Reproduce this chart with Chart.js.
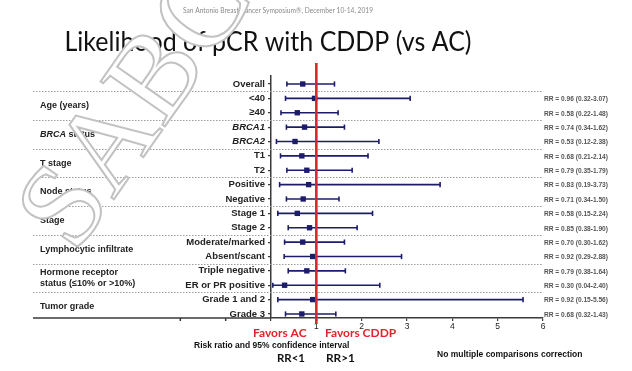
<!DOCTYPE html>
<html>
<head>
<meta charset="utf-8">
<script src="https://cdn.jsdelivr.net/npm/chart.js@4.4.1/dist/chart.umd.min.js"></script>
<style>
  html, body { margin: 0; padding: 0; background: #fff; }
  #wrap { width: 632px; height: 371px; }
</style>
</head>
<body>
<div id="wrap"><canvas id="forest" width="632" height="371"></canvas></div>
<script>
// Filas del forest plot (de arriba a abajo)
const rowLabels = ['Overall', '<40', '≥40', 'BRCA1', 'BRCA2', 'T1', 'T2', 'Positive', 'Negative',
    'Stage 1', 'Stage 2', 'Moderate/marked', 'Absent/scant', 'Triple negative', 'ER or PR positive',
    'Grade 1 and 2', 'Grade 3'];
const rr =     [0.70, 0.96, 0.58, 0.74, 0.53, 0.68, 0.79, 0.83, 0.71, 0.58, 0.85, 0.70, 0.92, 0.79, 0.30, 0.92, 0.68];
const ciLow =  [0.35, 0.32, 0.22, 0.34, 0.12, 0.21, 0.35, 0.19, 0.34, 0.15, 0.38, 0.30, 0.29, 0.38, 0.04, 0.15, 0.32];
const ciHigh = [1.40, 3.07, 1.48, 1.62, 2.38, 2.14, 1.79, 3.73, 1.50, 2.24, 1.90, 1.62, 2.88, 1.64, 2.40, 5.56, 1.43];

// Grupos (texto a la izquierda) y las filas que abarcan
const groupLabels = [['Age (years)'], ['BRCA status'], ['T stage'], ['Node status'], ['Stage'],
    ['Lymphocytic infiltrate'], ['Hormone receptor', 'status (≤10% or >10%)'], ['Tumor grade']];
const groupRows = [[1, 2], [3, 4], [5, 6], [7, 8], [9, 10], [11, 12], [13, 14], [15, 16]];

const xTicks = [0, 1, 2, 3, 4, 5, 6];
const xTicksLeft = [-2, -1];   // marcas sin texto a la izquierda del eje y
const axisStart = -5.25;       // la linea del eje x sigue por debajo de los grupos
const nullLine = 1;

const navy = '#1c1c6b';
const red = '#e3232b';

// Intervalos de confianza: una linea por fila, con topes verticales
const ciDatasets = rowLabels.map((_, i) => ({
    data: [{ x: ciLow[i], y: i }, { x: ciHigh[i], y: i }],
    showLine: true,
    borderColor: navy,
    borderWidth: 1.6,
    pointStyle: 'line',
    rotation: 90,
    pointRadius: 2.6,
    pointBorderWidth: 1.6,
    pointBorderColor: navy,
    clip: false,
}));

const textosPlugin = {
    id: 'textos',
    beforeDatasetsDraw(chart) {
        const { ctx, chartArea, scales: { x, y } } = chart;
        const left = x.getPixelForValue(axisStart);
        ctx.save();
        // separadores punteados entre grupos
        ctx.strokeStyle = '#9c9c9c';
        ctx.lineWidth = 1;
        ctx.setLineDash([1.5, 1.5]);
        groupRows.forEach(g => {
            const py = Math.round(y.getPixelForValue(g[0] - 0.5)) + 0.5;
            ctx.beginPath();
            ctx.moveTo(left, py);
            ctx.lineTo(chartArea.right, py);
            ctx.stroke();
        });
        ctx.setLineDash([]);

        // prolongacion del eje x hacia la izquierda
        ctx.strokeStyle = '#3a3a3a';
        ctx.lineWidth = 1.5;
        ctx.beginPath();
        ctx.moveTo(left, chartArea.bottom);
        ctx.lineTo(chartArea.left, chartArea.bottom);
        xTicksLeft.forEach(v => {
            const px = x.getPixelForValue(v);
            ctx.moveTo(px, chartArea.bottom);
            ctx.lineTo(px, chartArea.bottom + 3);
        });
        ctx.stroke();

        // etiquetas de grupo
        ctx.fillStyle = '#222';
        ctx.textBaseline = 'middle';
        ctx.textAlign = 'left';
        groupLabels.forEach((lines, gi) => {
            const mid = y.getPixelForValue((groupRows[gi][0] + groupRows[gi][1]) / 2);
            lines.forEach((t, li) => {
                const py = mid + (li - (lines.length - 1) / 2) * 11;
                if (t.startsWith('BRCA')) {
                    ctx.font = 'italic bold 9px "Liberation Sans"';
                    ctx.fillText('BRCA', 40, py);
                    const w = ctx.measureText('BRCA').width;
                    ctx.font = 'bold 9px "Liberation Sans"';
                    ctx.fillText(t.slice(4), 40 + w, py);
                } else {
                    ctx.font = 'bold 9px "Liberation Sans"';
                    ctx.fillText(t, 40, py, 100);
                }
            });
        });

        // RR (IC 95%) a la derecha; la fila Overall no lleva texto
        ctx.font = 'bold 6.6px "Liberation Sans"';
        ctx.fillStyle = '#555';
        rowLabels.forEach((_, i) => {
            if (i === 0) return;
            const txt = `RR = ${rr[i].toFixed(2)} (${ciLow[i].toFixed(2)}-${ciHigh[i].toFixed(2)})`;
            ctx.fillText(txt, chartArea.right + 1, y.getPixelForValue(i) + 1, 69);
        });
        ctx.restore();
    },
    afterDraw(chart) {
        const { ctx } = chart;
        ctx.save();
        ctx.textBaseline = 'middle';
        ctx.textAlign = 'center';
        ctx.fillStyle = '#8a8a8a';
        ctx.font = '7px Lato';
        ctx.fillText('San Antonio Breast Cancer Symposium®, December 10-14, 2019', 278, 11, 190);

        ctx.textBaseline = 'alphabetic';
        ctx.fillStyle = '#111';
        ctx.font = '26px Lato';
        ctx.fillText('Likelihood of pCR with CDDP (vs AC)', 268, 51, 407);

        ctx.textAlign = 'left';
        ctx.textBaseline = 'middle';
        ctx.fillStyle = red;
        ctx.font = 'bold 12px Lato';
        ctx.fillText('Favors AC', 253, 333, 60);
        ctx.fillText('Favors CDDP', 325, 333, 72);

        ctx.fillStyle = '#111';
        ctx.font = 'bold 8.5px "Liberation Sans"';
        ctx.fillText('Risk ratio and 95% confidence interval', 194, 346, 175);
        ctx.fillText('No multiple comparisons correction', 437, 355, 168);
        ctx.font = 'bold 12px Lato';
        ctx.fillText('RR<1', 277, 358, 28);
        ctx.fillText('RR>1', 326, 358, 29);

        // marca de agua
        ctx.translate(75, 255);
        ctx.rotate(-55 * Math.PI / 180);
        ctx.textBaseline = 'alphabetic';
        ctx.font = '120px "Liberation Serif"';
        ctx.fillStyle = '#fff';
        ctx.strokeStyle = '#c2c2c2';
        ctx.lineWidth = 2;
        ctx.fillText('SABCS', 0, 0);
        ctx.strokeText('SABCS', 0, 0);
        ctx.restore();
    }
};

const chart = new Chart(document.getElementById('forest'), {
    type: 'scatter',
    data: {
        datasets: [
            {
                // linea de no efecto (RR = 1)
                data: [{ x: nullLine, y: -1.46 }, { x: nullLine, y: 16.7 }],
                showLine: true,
                borderColor: red,
                borderWidth: 2.6,
                pointRadius: 0,
                clip: false,
            },
            {
                data: rr.map((v, i) => ({ x: v, y: i })),
                pointStyle: 'rect',
                pointRadius: 3.8,
                backgroundColor: navy,
                borderColor: navy,
                pointBorderWidth: 0,
            },
            ...ciDatasets
        ]
    },
    options: {
        responsive: false,
        animation: false,
        events: [],
        layout: { padding: { left: 0, right: 89, top: 76, bottom: 39 } },
        plugins: {
            legend: { display: false },
            tooltip: { enabled: false },
        },
        scales: {
            x: {
                type: 'linear',
                min: 0,
                max: 6,
                afterBuildTicks: s => { s.ticks = xTicks.map(v => ({ value: v })); },
                afterFit: s => { s.height = 14; },
                grid: { drawOnChartArea: false, drawTicks: true, tickLength: 3, color: '#3a3a3a', lineWidth: 1.2 },
                border: { display: true, color: '#3a3a3a', width: 1.5 },
                ticks: {
                    padding: 1,
                    color: '#222',
                    font: { family: 'Liberation Sans', size: 8.5 },
                    callback: v => (v === 0 ? '' : v),
                },
            },
            y: {
                type: 'linear',
                reverse: true,
                min: -0.557,
                max: 16.28,
                afterBuildTicks: s => { s.ticks = rowLabels.map((_, i) => ({ value: i })); },
                afterFit: s => { s.width = 271; },
                grid: { drawOnChartArea: false, drawTicks: true, tickLength: 3, color: '#3a3a3a', lineWidth: 1.2 },
                border: { display: true, color: '#3a3a3a', width: 1.5 },
                ticks: {
                    padding: 3,
                    color: '#222',
                    autoSkip: false,
                    font: c => ({
                        family: 'Liberation Sans',
                        size: 9.5,
                        weight: 'bold',
                        style: (c.tick && rowLabels[c.tick.value] || '').startsWith('BRCA') ? 'italic' : 'normal',
                    }),
                    callback: v => rowLabels[v],
                },
            },
        },
    },
    plugins: [textosPlugin],
});
</script>
</body>
</html>
